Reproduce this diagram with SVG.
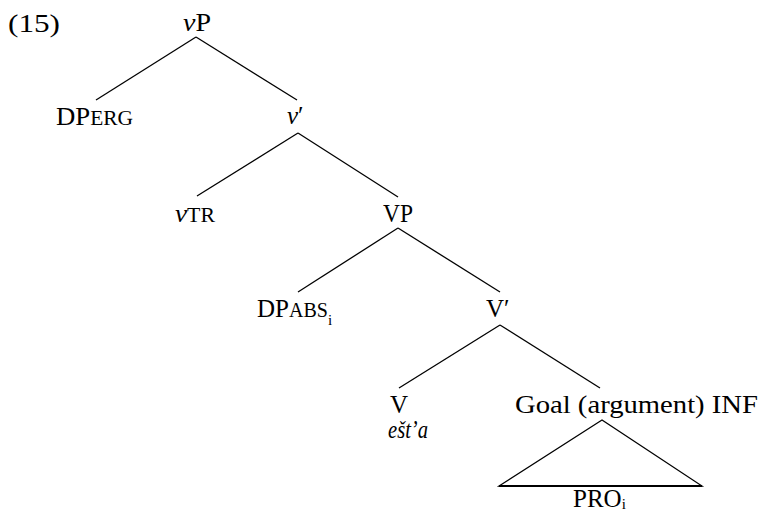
<svg xmlns="http://www.w3.org/2000/svg" width="762" height="514" viewBox="0 0 762 514">
<style>
text{font-family:"Liberation Serif","Times New Roman",serif;font-size:25px;fill:#000}
.sc{font-size:20px}
.sub{font-size:15px}
.it{font-style:italic}
.edge{stroke:#000;stroke-width:1.3;fill:none}
.base{stroke:#000;stroke-width:2.2}
</style>
<rect width="762" height="514" fill="#fff"/>
<text x="8" y="32" style="font-size:26px" textLength="52" lengthAdjust="spacingAndGlyphs">(15)</text>
<g id="connectors">
<line class="edge" x1="196" y1="37" x2="96" y2="100"/>
<line class="edge" x1="196" y1="37" x2="297" y2="100"/>
<line class="edge" x1="298" y1="133" x2="197" y2="196"/>
<line class="edge" x1="298" y1="133" x2="398" y2="197"/>
<line class="edge" x1="398" y1="228" x2="298" y2="292"/>
<line class="edge" x1="398" y1="228" x2="500" y2="292"/>
<line class="edge" x1="500" y1="325" x2="399" y2="388"/>
<line class="edge" x1="500" y1="325" x2="600" y2="388"/>
</g>
<g id="node-vP"><text x="183" y="31" textLength="28" lengthAdjust="spacingAndGlyphs"><tspan class="it">v</tspan>P</text></g>
<g id="node-DPERG"><text x="56" y="125" textLength="77" lengthAdjust="spacingAndGlyphs">DP<tspan class="sc">ERG</tspan></text></g>
<g id="node-vbar"><text x="287" y="124"><tspan class="it">v</tspan>′</text></g>
<g id="node-vTR"><text x="175" y="222" textLength="40" lengthAdjust="spacingAndGlyphs"><tspan class="it">v</tspan><tspan class="sc">TR</tspan></text></g>
<g id="node-VP"><text x="383" y="222" textLength="30" lengthAdjust="spacingAndGlyphs">VP</text></g>
<g id="node-DPABS"><text x="257" y="317">DP<tspan class="sc">ABS</tspan><tspan class="sub" dy="8">i</tspan></text></g>
<g id="node-Vbar"><text x="486" y="317">V′</text></g>
<g id="node-V"><text x="390" y="413">V</text><text class="it" x="388" y="438" textLength="40" lengthAdjust="spacingAndGlyphs">ešt’a</text></g>
<g id="node-Goal"><text x="515" y="413" textLength="243" lengthAdjust="spacingAndGlyphs">Goal (argument) INF</text>
<polygon class="edge" points="602,420 499,486 702,486"/>
<line class="base" x1="499" y1="486" x2="702" y2="486"/>
<text x="573" y="507">PRO<tspan class="sub" dy="2">i</tspan></text></g>
</svg>
